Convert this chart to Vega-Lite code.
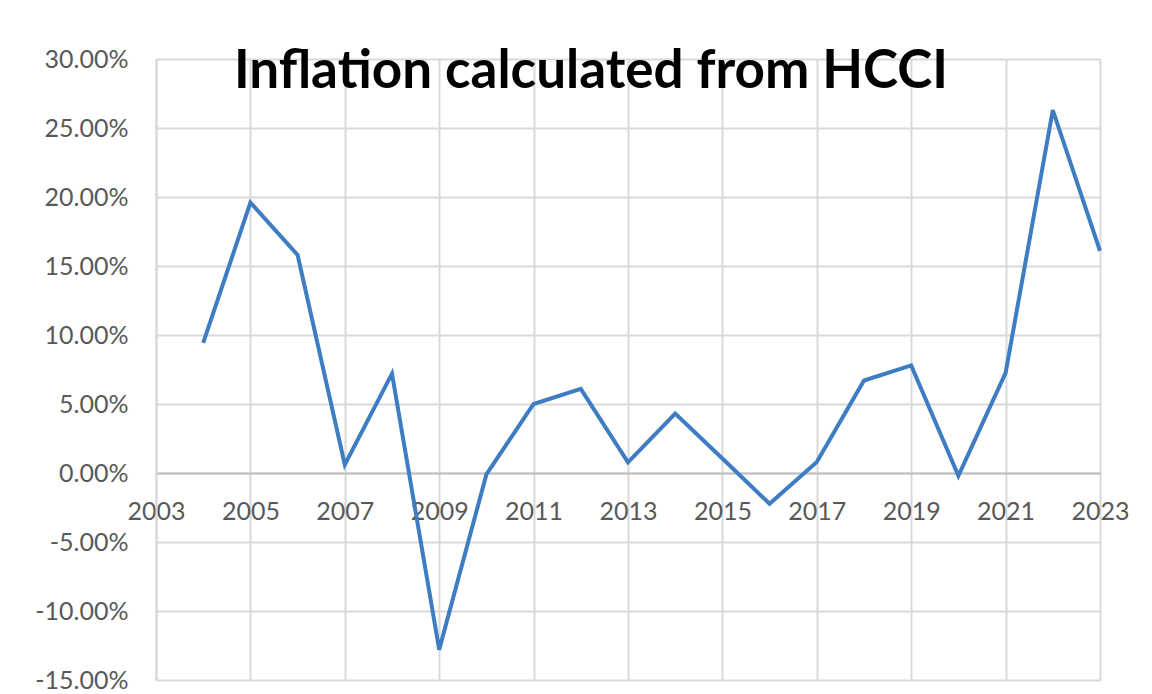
{
  "$schema": "https://vega.github.io/schema/vega-lite/v6.json",
  "width": 944,
  "height": 621,
  "autosize": "none",
  "padding": {"left": 156, "top": 59, "right": 52, "bottom": 14},
  "background": "white",
  "title": {
    "text": "Inflation calculated from HCCI",
    "font": "Lato",
    "fontSize": 53,
    "fontWeight": "bold",
    "color": "#000000",
    "anchor": "middle",
    "frame": "group",
    "baseline": "alphabetic",
    "offset": -27,
    "dx": -37,
    "dy": 67
  },
  "data": {
    "values": [
      {"year": 2004, "inflation": 0.0943},
      {"year": 2005, "inflation": 0.196},
      {"year": 2006, "inflation": 0.158},
      {"year": 2007, "inflation": 0.006},
      {"year": 2008, "inflation": 0.072},
      {"year": 2009, "inflation": -0.128},
      {"year": 2010, "inflation": -0.001},
      {"year": 2011, "inflation": 0.05},
      {"year": 2012, "inflation": 0.061},
      {"year": 2013, "inflation": 0.0077},
      {"year": 2014, "inflation": 0.043},
      {"year": 2015, "inflation": 0.0105},
      {"year": 2016, "inflation": -0.0223},
      {"year": 2017, "inflation": 0.008},
      {"year": 2018, "inflation": 0.067},
      {"year": 2019, "inflation": 0.078},
      {"year": 2020, "inflation": -0.002},
      {"year": 2021, "inflation": 0.0725},
      {"year": 2022, "inflation": 0.263},
      {"year": 2023, "inflation": 0.161}
    ]
  },
  "mark": {"type": "line", "color": "#3e7dc2", "strokeWidth": 4, "strokeJoin": "miter"},
  "encoding": {
    "x": {
      "field": "year",
      "type": "quantitative",
      "scale": {"domain": [2003, 2023], "nice": false, "zero": false},
      "axis": {
        "title": null,
        "values": [2003, 2005, 2007, 2009, 2011, 2013, 2015, 2017, 2019, 2021, 2023],
        "format": "d",
        "offset": -207,
        "ticks": false,
        "domainColor": "#bfbfbf",
        "domainWidth": 2,
        "grid": true,
        "gridColor": "#d9d9d9",
        "gridWidth": 2,
        "labelFont": "Lato",
        "labelFontSize": 25,
        "labelColor": "#595959",
        "labelBaseline": "alphabetic",
        "labelPadding": 46,
        "labelFlush": false,
        "labelOverlap": false
      }
    },
    "y": {
      "field": "inflation",
      "type": "quantitative",
      "scale": {"domain": [-0.15, 0.3], "nice": false, "zero": false},
      "axis": {
        "title": null,
        "values": [-0.15, -0.1, -0.05, 0, 0.05, 0.1, 0.15, 0.2, 0.25, 0.3],
        "labelExpr": "replace(format(datum.value, '.2%'), '\u2212', '-')",
        "ticks": false,
        "domainColor": "#d9d9d9",
        "domainWidth": 2,
        "grid": true,
        "gridColor": "#d9d9d9",
        "gridWidth": 2,
        "labelFont": "Lato",
        "labelFontSize": 25,
        "labelColor": "#595959",
        "labelPadding": 28,
        "labelFlush": false,
        "labelOverlap": false
      }
    }
  },
  "config": {"view": {"stroke": null}}
}
